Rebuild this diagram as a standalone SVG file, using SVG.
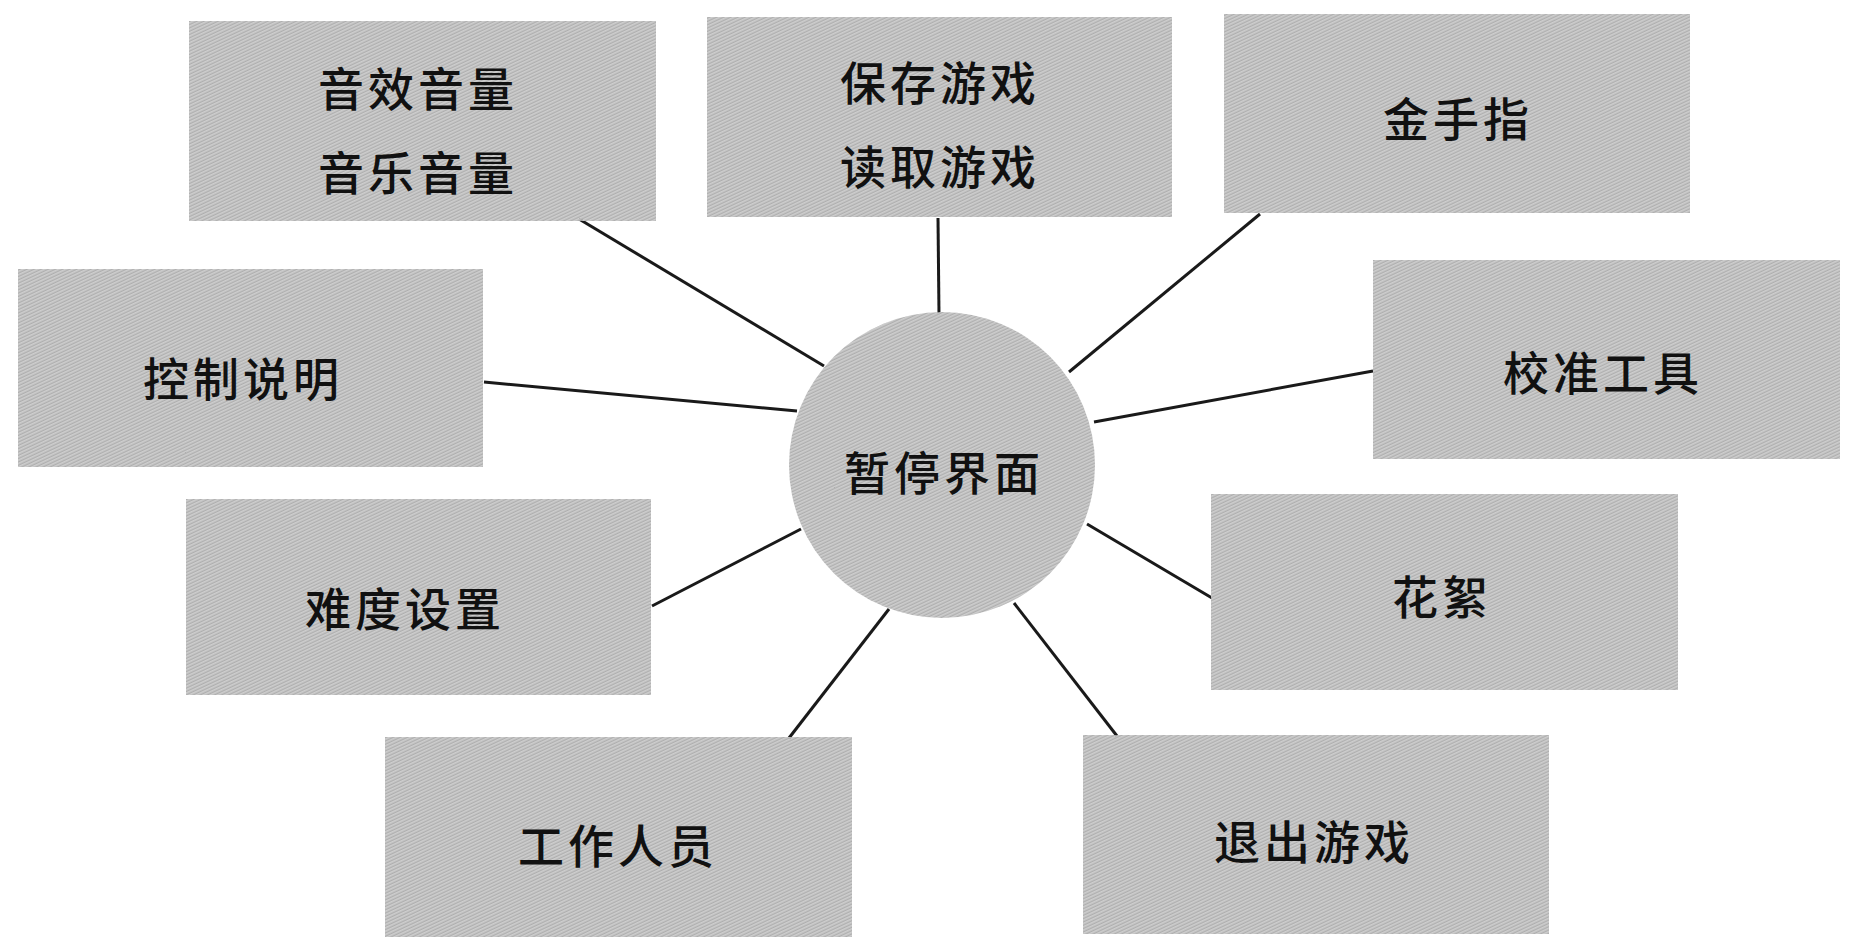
<svg xmlns="http://www.w3.org/2000/svg" width="1853" height="948" viewBox="0 0 1853 948">
<style>
.tex{fill:url(#weave);}
.lbl{font-family:"Noto Sans CJK SC","Noto Sans",sans-serif;font-size:46px;font-weight:500;fill:#111;text-anchor:middle;dominant-baseline:central;letter-spacing:4px;}
.con{stroke:#1a1a1a;stroke-width:3;fill:none;}
</style>
<defs>
<pattern id="weave" width="3" height="3" patternUnits="userSpaceOnUse" patternTransform="rotate(-25)">
<rect width="3" height="1.5" fill="#afafaf"/>
<rect y="1.5" width="3" height="1.5" fill="#c3c3c3"/>
</pattern>
</defs>
<rect width="1853" height="948" fill="#ffffff"/>
<g id="connectors">
<line class="con" x1="579" y1="219" x2="824" y2="366"/>
<line class="con" x1="938" y1="218" x2="939" y2="314"/>
<line class="con" x1="1260" y1="214" x2="1069" y2="372"/>
<line class="con" x1="484" y1="382" x2="797" y2="411"/>
<line class="con" x1="1373" y1="371" x2="1094" y2="422"/>
<line class="con" x1="652" y1="606" x2="801" y2="529"/>
<line class="con" x1="1212" y1="598" x2="1087" y2="524"/>
<line class="con" x1="789" y1="738" x2="889" y2="609"/>
<line class="con" x1="1117" y1="736" x2="1014" y2="603"/>
</g>
<g id="center">
<circle cx="942" cy="465" r="153" class="tex"/>
<text class="lbl" x="944" y="470">暂停界面</text>
</g>
<g id="n1">
<rect x="189" y="21" width="467" height="200" class="tex"/>
<text class="lbl" x="418" y="86">音效音量</text>
<text class="lbl" x="418" y="170">音乐音量</text>
</g>
<g id="n2">
<rect x="707" y="17" width="465" height="200" class="tex"/>
<text class="lbl" x="940" y="80">保存游戏</text>
<text class="lbl" x="940" y="164">读取游戏</text>
</g>
<g id="n3">
<rect x="1224" y="14" width="466" height="199" class="tex"/>
<text class="lbl" x="1458" y="116">金手指</text>
</g>
<g id="n4">
<rect x="18" y="269" width="465" height="198" class="tex"/>
<text class="lbl" x="243" y="376">控制说明</text>
</g>
<g id="n5">
<rect x="1373" y="260" width="467" height="199" class="tex"/>
<text class="lbl" x="1603" y="370">校准工具</text>
</g>
<g id="n6">
<rect x="186" y="499" width="465" height="196" class="tex"/>
<text class="lbl" x="405" y="606">难度设置</text>
</g>
<g id="n7">
<rect x="1211" y="494" width="467" height="196" class="tex"/>
<text class="lbl" x="1442" y="594">花絮</text>
</g>
<g id="n8">
<rect x="385" y="737" width="467" height="200" class="tex"/>
<text class="lbl" x="618" y="843">工作人员</text>
</g>
<g id="n9">
<rect x="1083" y="735" width="466" height="199" class="tex"/>
<text class="lbl" x="1314" y="839">退出游戏</text>
</g>
</svg>
